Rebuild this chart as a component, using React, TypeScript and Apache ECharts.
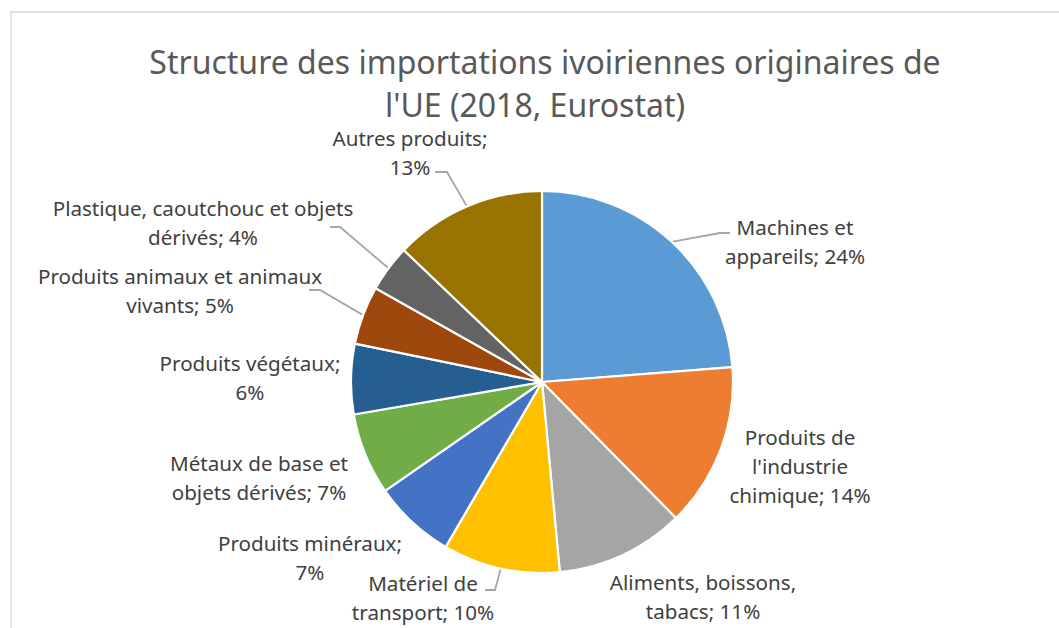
import React, { useEffect, useRef } from "react";
import * as echarts from "echarts";

// ---- Data ----
const titleLines = [
  "Structure des importations ivoiriennes originaires de",
  "l'UE (2018, Eurostat)",
];
const categories = [
  "Machines et appareils",
  "Produits de l'industrie chimique",
  "Aliments, boissons, tabacs",
  "Matériel de transport",
  "Produits minéraux",
  "Métaux de base et objets dérivés",
  "Produits végétaux",
  "Produits animaux et animaux vivants",
  "Plastique, caoutchouc et objets dérivés",
  "Autres produits",
];
const shares = [24, 14, 11, 10, 7, 7, 6, 5, 4, 13];
const labelTemplates = [
  "Machines et\nappareils; {p}",
  "Produits de\nl'industrie\nchimique; {p}",
  "Aliments, boissons,\ntabacs; {p}",
  "Matériel de\ntransport; {p}",
  "Produits minéraux;\n{p}",
  "Métaux de base et\nobjets dérivés; {p}",
  "Produits végétaux;\n{p}",
  "Produits animaux et animaux\nvivants; {p}",
  "Plastique, caoutchouc et objets\ndérivés; {p}",
  "Autres produits;\n{p}",
];
const colors = [
  "#5B9BD5",
  "#ED7D31",
  "#A5A5A5",
  "#FFC000",
  "#4472C4",
  "#70AD47",
  "#255E91",
  "#9E480E",
  "#636363",
  "#997300",
];

// ---- Layout ----
const CX = 542;
const CY = 382;
const R = 191;
const labelCenters: number[][] = [
  [795, 241],
  [800, 466],
  [703, 596],
  [423, 597],
  [310, 557],
  [259, 477],
  [250, 377],
  [180, 290],
  [203, 222],
  [410, 152],
];
const leaders: (number[][] | null)[] = [
  [[720, 233], [730, 233]],
  null,
  null,
  [[495, 590], [485, 590]],
  null,
  null,
  null,
  [[320, 290], [309, 290]],
  [[340, 227], [330, 227]],
  [[447, 172], [435, 172]],
];

function edgePoint(i: number): number[] {
  const total = shares.reduce((a, b) => a + b, 0);
  let before = 0;
  for (let k = 0; k < i; k++) before += shares[k];
  const frac = (before + shares[i] / 2) / total;
  const a = frac * Math.PI * 2;
  return [CX + R * Math.sin(a), CY - R * Math.cos(a)];
}

export default function App() {
  const ref = useRef<HTMLDivElement>(null);
  useEffect(() => {
    if (!ref.current) return;
    const chart = echarts.init(ref.current, undefined, { renderer: "svg" });
    chart.setOption({
      animation: false,
      backgroundColor: "#ffffff",
      graphic: [
        {
          type: "rect",
          silent: true,
          z: -10,
          shape: { x: 11, y: 12, width: 1100, height: 700 },
          style: { fill: "none", stroke: "#d9d9d9", lineWidth: 1.5 },
        },
        {
          type: "text",
          x: 545,
          y: 61,
          style: {
            text: titleLines[0],
            fontSize: 32,
            fontFamily: "Noto Sans",
            fill: "#595959",
            textAlign: "center",
            textVerticalAlign: "middle",
            align: "center",
            verticalAlign: "middle",
          },
        },
        {
          type: "text",
          x: 535,
          y: 104,
          style: {
            text: titleLines[1],
            fontSize: 32,
            fontFamily: "Noto Sans",
            fill: "#595959",
            textAlign: "center",
            textVerticalAlign: "middle",
            align: "center",
            verticalAlign: "middle",
          },
        },
      ],
      series: [
        {
          type: "pie",
          center: [CX, CY],
          radius: R,
          startAngle: 90,
          clockwise: true,
          avoidLabelOverlap: false,
          emphasis: { disabled: true },
          itemStyle: { borderColor: "#ffffff", borderWidth: 2.2 },
          label: {
            show: true,
            position: "outside",
            formatter: (p: any) =>
              labelTemplates[p.dataIndex].replace("{p}", p.value + "%"),
            color: "#404040",
            fontSize: 20.6,
            fontFamily: "Noto Sans",
            lineHeight: 29,
            align: "center",
          },
          labelLine: {
            show: true,
            length: 10,
            length2: 10,
            lineStyle: { color: "#a6a6a6", width: 1.8 },
          },
          labelLayout: (params: any) => {
            const i = params.dataIndex;
            const c = labelCenters[i];
            const res: any = {
              x: c[0],
              y: c[1],
              align: "center",
              verticalAlign: "middle",
            };
            const l = leaders[i];
            if (l) res.labelLinePoints = [edgePoint(i), l[0], l[1]];
            return res;
          },
          data: categories.map((name, i) => ({
            name,
            value: shares[i],
            itemStyle: { color: colors[i] },
            labelLine: { show: leaders[i] !== null },
          })),
        },
      ],
    });
    return () => chart.dispose();
  }, []);
  return (
    <div
      ref={ref}
      style={{ position: "absolute", left: 0, top: 0, width: 1059, height: 628 }}
    />
  );
}
